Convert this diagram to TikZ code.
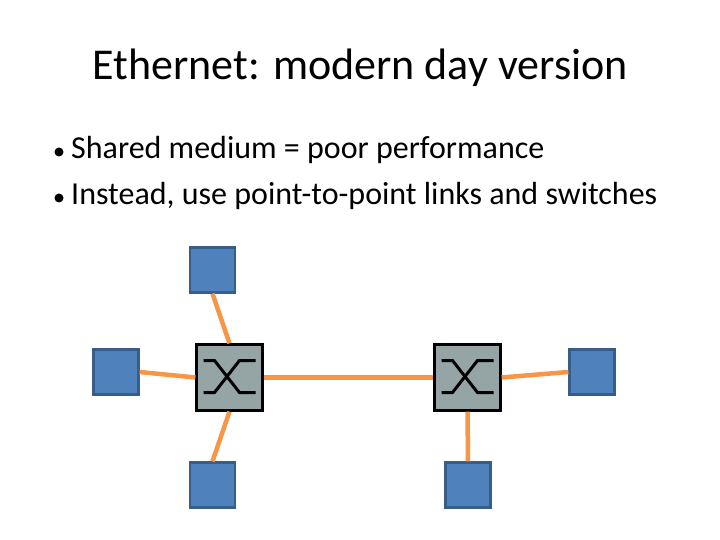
\documentclass[tikz,border=0pt]{standalone}
\usepackage{fontspec}
\setmainfont{Carlito}
\begin{document}
\begin{tikzpicture}[x=1pt,y=-1pt,
 host/.style={draw={rgb,255:red,56;green,93;blue,138},line width=2.2pt,fill={rgb,255:red,79;green,129;blue,189},minimum size=45pt,inner sep=0pt},
 sw/.style={draw=black,line width=2.2pt,fill={rgb,255:red,149;green,165;blue,166},minimum size=66pt,inner sep=0pt},
 link/.style={draw={rgb,255:red,247;green,150;blue,70},line width=4.5pt},
 txt/.style={inner sep=0pt,anchor=west,font=\fontsize{32}{36}\selectfont},
 dot/.style={circle,fill=black,inner sep=0pt,minimum size=9pt}]
\useasboundingbox (0,0) rectangle (720,540);
\node[font=\fontsize{44}{50}\selectfont] (title) at (360,68) {Ethernet: modern day version};
\node[dot] (d1) at (59,152) {};
\node[dot] (d2) at (59,198) {};
\node[txt] (b1) at (71,150) {Shared medium = poor performance};
\node[txt] (b2) at (71,196) {Instead, use point-to-point links and switches};
\node[host] (ht) at (212.5,270) {};
\node[host] (hl) at (116,372) {};
\node[host] (hb) at (212.5,485) {};
\node[host] (hb2) at (468,485) {};
\node[host] (hr) at (592,372) {};
\node[sw] (s1) at (229.5,377.5) {};
\node[sw] (s2) at (467.5,377.5) {};
\draw[link] (ht.south) -- (s1.north);
\draw[link] (hl.east) -- (s1.west);
\draw[link] (hb.north) -- (s1.south);
\draw[link] (s1.east) -- (s2.west);
\draw[link] (hb2.north) -- (s2.south);
\draw[link] (hr.west) -- (s2.east);
\foreach \s in {s1,s2}{
 \draw[line width=3pt] ([shift={(-26,-17)}]\s.center) -- ++(11,0) -- ++(25,32) -- ++(16,0);
 \draw[line width=3pt] ([shift={(26,-17)}]\s.center) -- ++(-16,0) -- ++(-25,32) -- ++(-11,0);
}
\end{tikzpicture}
\end{document}
